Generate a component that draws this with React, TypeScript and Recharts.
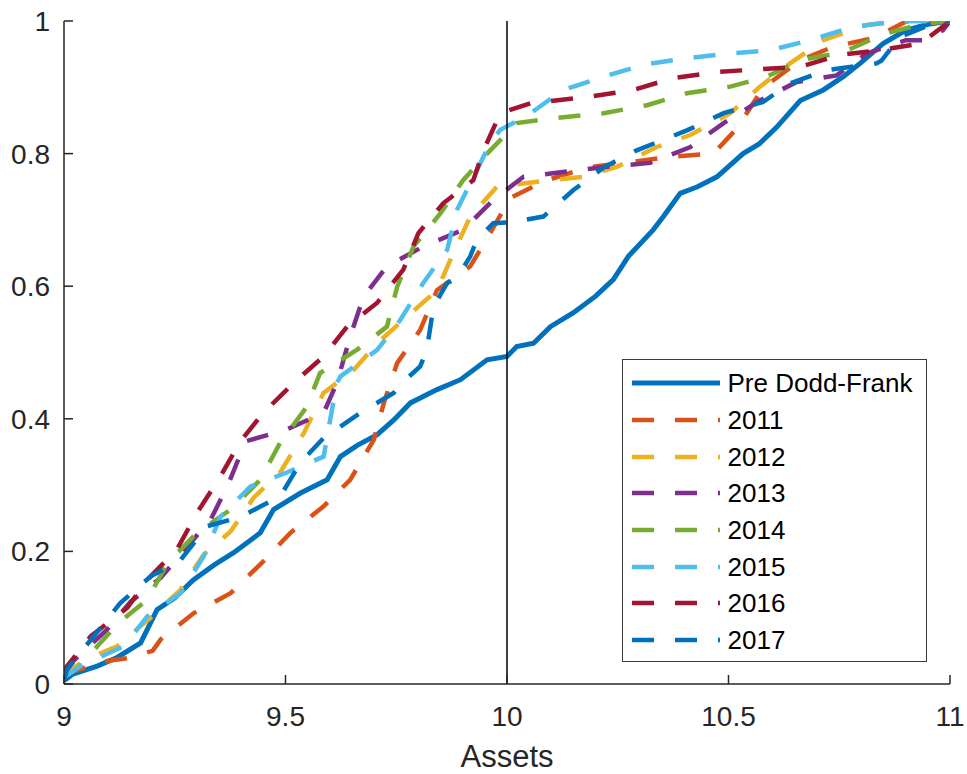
import React from 'react';
import { LineChart, Line, XAxis, YAxis, ReferenceLine, Legend } from 'recharts';

// Tick labels
const xTicks = [9, 9.5, 10, 10.5, 11];
const yTicks = [0, 0.2, 0.4, 0.6, 0.8, 1];

// Pre Dodd-Frank
const preX = [9.0, 9.02, 9.075, 9.12, 9.173, 9.21, 9.25, 9.292, 9.34, 9.383, 9.443, 9.473, 9.534, 9.594, 9.624, 9.662, 9.707, 9.744, 9.782, 9.842, 9.895, 9.955, 10.0, 10.022, 10.06, 10.098, 10.15, 10.2, 10.24, 10.274, 10.33, 10.353, 10.391, 10.43, 10.474, 10.533, 10.57, 10.609, 10.662, 10.714, 10.759, 10.797, 10.849, 10.9, 10.95, 11.0];
const preY = [0.005, 0.015, 0.027, 0.04, 0.062, 0.112, 0.13, 0.157, 0.18, 0.198, 0.228, 0.263, 0.288, 0.308, 0.343, 0.36, 0.376, 0.398, 0.424, 0.444, 0.459, 0.489, 0.494, 0.509, 0.514, 0.539, 0.56, 0.585, 0.61, 0.645, 0.685, 0.705, 0.74, 0.75, 0.765, 0.8, 0.815, 0.84, 0.88, 0.896, 0.916, 0.936, 0.966, 0.986, 0.995, 1.0];

// 2011
const x2011 = [9.0, 9.06, 9.1, 9.143, 9.2, 9.218, 9.293, 9.376, 9.45, 9.511, 9.586, 9.646, 9.699, 9.722, 9.752, 9.804, 9.842, 9.917, 9.962, 10.007, 10.082, 10.18, 10.278, 10.368, 10.466, 10.519, 10.578, 10.662, 10.736, 10.827, 10.9, 11.0];
const y2011 = [0.015, 0.027, 0.035, 0.039, 0.05, 0.067, 0.107, 0.137, 0.185, 0.228, 0.268, 0.308, 0.368, 0.424, 0.484, 0.534, 0.594, 0.63, 0.68, 0.733, 0.758, 0.779, 0.787, 0.795, 0.8, 0.838, 0.899, 0.941, 0.961, 0.974, 0.999, 1.0];

// 2012
const x2012 = [9.0, 9.015, 9.06, 9.12, 9.195, 9.263, 9.315, 9.376, 9.428, 9.488, 9.541, 9.586, 9.653, 9.707, 9.774, 9.842, 9.879, 9.917, 9.977, 10.075, 10.172, 10.248, 10.338, 10.414, 10.504, 10.571, 10.639, 10.714, 10.812, 10.887, 11.0];
const y2012 = [0.01, 0.022, 0.04, 0.057, 0.1, 0.142, 0.195, 0.23, 0.281, 0.319, 0.378, 0.439, 0.473, 0.514, 0.554, 0.594, 0.65, 0.705, 0.75, 0.758, 0.765, 0.78, 0.81, 0.828, 0.861, 0.901, 0.936, 0.971, 0.994, 1.0, 1.0];

// 2013
const x2013 = [9.0, 9.02, 9.097, 9.15, 9.218, 9.278, 9.331, 9.37, 9.41, 9.503, 9.586, 9.616, 9.646, 9.676, 9.729, 9.811, 9.901, 9.969, 10.037, 10.135, 10.225, 10.323, 10.414, 10.489, 10.571, 10.654, 10.744, 10.812, 10.9, 10.94, 10.984, 11.0];
const y2013 = [0.015, 0.034, 0.082, 0.124, 0.16, 0.207, 0.248, 0.3, 0.366, 0.384, 0.409, 0.454, 0.524, 0.584, 0.63, 0.66, 0.685, 0.73, 0.765, 0.773, 0.78, 0.786, 0.81, 0.846, 0.88, 0.908, 0.918, 0.951, 0.971, 0.971, 0.986, 1.0];

// 2014
const x2014 = [9.0, 9.037, 9.075, 9.123, 9.188, 9.233, 9.3, 9.376, 9.443, 9.488, 9.548, 9.578, 9.661, 9.729, 9.752, 9.789, 9.85, 9.901, 9.955, 10.022, 10.113, 10.218, 10.316, 10.406, 10.504, 10.587, 10.662, 10.759, 10.849, 10.94, 11.0];
const y2014 = [0.01, 0.027, 0.057, 0.092, 0.127, 0.182, 0.228, 0.263, 0.308, 0.364, 0.418, 0.469, 0.504, 0.539, 0.599, 0.66, 0.71, 0.76, 0.8, 0.846, 0.854, 0.861, 0.873, 0.891, 0.901, 0.916, 0.941, 0.953, 0.98, 0.996, 1.0];

// 2015
const x2015 = [9.0, 9.037, 9.135, 9.188, 9.263, 9.315, 9.353, 9.421, 9.503, 9.586, 9.601, 9.616, 9.624, 9.707, 9.759, 9.811, 9.865, 9.887, 9.932, 9.962, 9.985, 10.045, 10.127, 10.218, 10.308, 10.406, 10.504, 10.594, 10.684, 10.781, 10.887, 11.0];
const y2015 = [0.01, 0.027, 0.057, 0.102, 0.137, 0.192, 0.252, 0.298, 0.319, 0.343, 0.399, 0.454, 0.464, 0.504, 0.549, 0.605, 0.655, 0.715, 0.775, 0.816, 0.836, 0.857, 0.896, 0.916, 0.934, 0.944, 0.951, 0.956, 0.971, 0.991, 1.0, 1.0];

// 2016
const x2016 = [9.0, 9.007, 9.06, 9.143, 9.188, 9.255, 9.3, 9.353, 9.398, 9.45, 9.518, 9.586, 9.639, 9.707, 9.766, 9.8, 9.856, 9.924, 9.947, 9.985, 10.053, 10.187, 10.285, 10.375, 10.474, 10.564, 10.662, 10.752, 10.842, 10.933, 10.993, 11.0];
const y2016 = [0.015, 0.027, 0.072, 0.115, 0.157, 0.203, 0.258, 0.313, 0.366, 0.409, 0.454, 0.494, 0.539, 0.575, 0.625, 0.68, 0.725, 0.76, 0.805, 0.861, 0.876, 0.886, 0.896, 0.914, 0.923, 0.927, 0.931, 0.949, 0.956, 0.966, 0.996, 1.0];

// 2017
const x2017 = [9.0, 9.007, 9.067, 9.127, 9.195, 9.263, 9.323, 9.398, 9.488, 9.534, 9.586, 9.669, 9.744, 9.763, 9.804, 9.819, 9.834, 9.865, 9.887, 9.917, 9.932, 9.969, 10.015, 10.082, 10.15, 10.22, 10.293, 10.406, 10.489, 10.578, 10.639, 10.722, 10.834, 10.845, 10.887, 10.955, 11.0];
const y2017 = [0.005, 0.022, 0.072, 0.122, 0.162, 0.187, 0.238, 0.252, 0.283, 0.334, 0.371, 0.409, 0.439, 0.454, 0.479, 0.504, 0.569, 0.605, 0.612, 0.645, 0.67, 0.695, 0.697, 0.705, 0.745, 0.78, 0.805, 0.835, 0.861, 0.878, 0.906, 0.926, 0.936, 0.94, 0.976, 0.994, 1.0];

const seriesNames = ['Pre Dodd-Frank', '2011', '2012', '2013', '2014', '2015', '2016', '2017'];

const zip = (xs: number[], ys: number[]) => xs.map((x, i) => ({ x, y: ys[i] }));

const DASH = '22 21';
const series = [
  { name: seriesNames[0], data: zip(preX, preY), color: '#0072BD', dash: undefined as string | undefined, w: 5 },
  { name: seriesNames[1], data: zip(x2011, y2011), color: '#D95319', dash: DASH, w: 4.5 },
  { name: seriesNames[2], data: zip(x2012, y2012), color: '#EDB120', dash: DASH, w: 4.5 },
  { name: seriesNames[3], data: zip(x2013, y2013), color: '#7E2F8E', dash: DASH, w: 4.5 },
  { name: seriesNames[4], data: zip(x2014, y2014), color: '#77AC30', dash: DASH, w: 4.5 },
  { name: seriesNames[5], data: zip(x2015, y2015), color: '#4DBEEE', dash: DASH, w: 4.5 },
  { name: seriesNames[6], data: zip(x2016, y2016), color: '#A2142F', dash: DASH, w: 4.5 },
  { name: seriesNames[7], data: zip(x2017, y2017), color: '#0072BD', dash: DASH, w: 4.5 },
];

const FONT = '"Liberation Sans", Arial, Helvetica, sans-serif';
const AXIS = '#262626';

const LegendBox = () => (
  <div
    style={{
      boxSizing: 'border-box',
      width: 305,
      height: 303,
      border: '1.5px solid #3a3a3a',
      background: '#fff',
      paddingTop: 5,
      fontFamily: FONT,
    }}
  >
    {series.map((s) => (
      <div key={s.name} style={{ height: 36.7, display: 'flex', alignItems: 'center' }}>
        <svg width={88} height={10} style={{ marginLeft: 8.5, display: 'block' }}>
          <line x1={0} y1={5} x2={88} y2={5} stroke={s.color} strokeWidth={s.w} strokeDasharray={s.dash} />
        </svg>
        <span style={{ marginLeft: 8, fontSize: 26, color: '#000', lineHeight: '36px' }}>{s.name}</span>
      </div>
    ))}
  </div>
);

export default function App() {
  return (
    <div style={{ position: 'absolute', left: 0, top: 0, background: '#fff' }}>
      <LineChart width={967} height={774} margin={{ top: 21, right: 17, left: 0, bottom: 0 }} style={{ fontFamily: FONT }}>
        <XAxis
          xAxisId="b"
          dataKey="x"
          type="number"
          domain={[9, 11]}
          ticks={xTicks}
          allowDataOverflow
          height={90}
          tickSize={-9}
          tickMargin={31}
          tick={{ fill: AXIS, fontSize: 28, fontFamily: FONT }}
          axisLine={{ stroke: AXIS, strokeWidth: 1.5 }}
          tickLine={{ stroke: AXIS, strokeWidth: 1.5 }}
          label={{ value: 'Assets', position: 'insideBottom', offset: 7, fill: AXIS, fontSize: 31, fontFamily: FONT }}
        />
        <XAxis
          xAxisId="t"
          orientation="top"
          dataKey="x"
          type="number"
          domain={[9, 11]}
          ticks={xTicks}
          allowDataOverflow
          height={0}
          tickSize={-9}
          tick={false}
          axisLine={{ stroke: AXIS, strokeWidth: 1.5 }}
          tickLine={{ stroke: AXIS, strokeWidth: 1.5 }}
        />
        <YAxis
          yAxisId="l"
          type="number"
          domain={[0, 1]}
          ticks={yTicks}
          allowDataOverflow
          width={64}
          tickSize={-9}
          tickMargin={23}
          tick={{ fill: AXIS, fontSize: 28, fontFamily: FONT }}
          axisLine={{ stroke: AXIS, strokeWidth: 1.5 }}
          tickLine={{ stroke: AXIS, strokeWidth: 1.5 }}
        />
        <YAxis
          yAxisId="r"
          orientation="right"
          type="number"
          domain={[0, 1]}
          ticks={yTicks}
          allowDataOverflow
          width={0}
          tickSize={-9}
          tick={false}
          axisLine={{ stroke: AXIS, strokeWidth: 1.5 }}
          tickLine={{ stroke: AXIS, strokeWidth: 1.5 }}
        />
        {series.map((s) => (
          <Line
            key={s.name}
            xAxisId="b"
            yAxisId="l"
            data={s.data}
            dataKey="y"
            name={s.name}
            type="linear"
            stroke={s.color}
            strokeWidth={s.w}
            strokeDasharray={s.dash}
            dot={false}
            activeDot={false}
            isAnimationActive={false}
          />
        ))}
        <ReferenceLine xAxisId="b" yAxisId="l" x={10} stroke="#000" strokeWidth={1.5} />
        <Legend
          layout="vertical"
          align="center"
          verticalAlign="middle"
          content={() => <LegendBox />}
          wrapperStyle={{ left: 622, top: 359, width: 305, height: 303 }}
        />
      </LineChart>
    </div>
  );
}
